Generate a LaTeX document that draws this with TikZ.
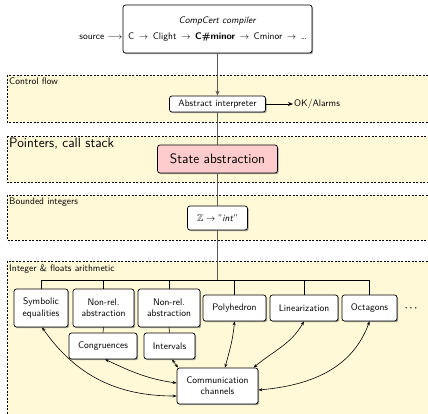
\documentclass[tikz,border=0pt]{standalone}
\usepackage{amsmath,amssymb}
\usetikzlibrary{arrows.meta,shadows}
\definecolor{bandfill}{RGB}{255,249,216}
\definecolor{statefill}{RGB}{255,204,206}
\newcommand\basefont{\sffamily\fontsize{9.5}{11.3}\selectfont}
\newcommand\bigfont{\sffamily\fontsize{13.6}{16}\selectfont}
\begin{document}
\begin{tikzpicture}[x=1pt,y=1pt,
  band/.style={draw=black, fill=bandfill, line width=0.7pt, dash pattern=on 2pt off 1.5pt},
  bandlabel/.style={anchor=north west, inner sep=1pt, font=\basefont},
  box/.style={draw, fill=white, rounded corners=2.5pt, line width=0.7pt, align=center,
    font=\basefont, inner sep=1pt,
    drop shadow={shadow xshift=1.2pt, shadow yshift=-1.2pt, fill=black!60, opacity=0.6}},
  spine/.style={draw=black!65, line width=1pt},
  bus/.style={draw, line width=0.6pt},
  link/.style={draw, line width=0.6pt, {Stealth[length=4pt,width=3pt]}-{Stealth[length=4pt,width=3pt]}},
]
\useasboundingbox (0,0) rectangle (428,-413);

% layer bands
\path[band] (7,-75) rectangle (440,-122);
\path[band] (7,-136) rectangle (440,-182);
\path[band] (7,-195) rectangle (440,-240);
\path[band] (7,-261) rectangle (440,-425);
\node[bandlabel] (lcf) at (8,-77) {Control flow};
\node[bandlabel, font=\bigfont] (lpc) at (8,-136.5) {Pointers, call stack};
\node[bandlabel] (lbi) at (8,-197) {Bounded integers};
\node[bandlabel] (lia) at (8,-263) {Integer \& floats arithmetic};

% front end
\node[box, minimum width=189pt, minimum height=48pt] (cc) at (217.5,-29)
  {\textit{CompCert compiler}\\[4pt]
   C $\,\to\,$ Clight $\,\to\,$ \textbf{C\#minor} $\,\to\,$ Cminor $\,\to\,$ \ldots};
\node[anchor=east, inner sep=0pt, font=\basefont] (src) at ([yshift=-8pt]cc.west)
  {source $\longrightarrow$};

% spine
\node[box, minimum width=96pt, minimum height=16pt] (ai) at (217.5,-104) {Abstract interpreter};
\node[anchor=west, inner sep=1pt, font=\basefont] (ok) at (293,-104) {OK/Alarms};
\node[box, fill=statefill, font=\bigfont, minimum width=120pt, minimum height=28pt] (sa) at (217.5,-159) {State abstraction};
\node[box, minimum width=60pt, minimum height=24pt] (zi) at (217.5,-218) {$\mathbb{Z}\to{}$''\textit{int}''};
\coordinate (hub) at (217.5,-280);

% domains
\node[box, minimum width=54pt, minimum height=38pt] (sym) at (41,-308) {Symbolic\\equalities};
\node[box, minimum width=61pt, minimum height=38pt] (nr1) at (103.5,-308) {Non-rel.\\abstraction};
\node[box, minimum width=62pt, minimum height=38pt] (nr2) at (169,-308) {Non-rel.\\abstraction};
\node[box, minimum width=63pt, minimum height=26pt] (poly) at (234.5,-308) {Polyhedron};
\node[box, minimum width=68pt, minimum height=26pt] (lin) at (304,-308) {Linearization};
\node[box, minimum width=55pt, minimum height=26pt] (oct) at (369.5,-308) {Octagons};
\node[font=\basefont, inner sep=0pt] (more) at (412,-308) {$\boldsymbol{\cdots}$};
\node[box, minimum width=68pt, minimum height=26pt] (cong) at (103,-346) {Congruences};
\node[box, minimum width=51pt, minimum height=26pt] (intv) at (169.5,-346) {Intervals};
\node[box, minimum width=81pt, minimum height=36pt] (comm) at (217.5,-386) {Communication\\channels};

% spine connectors
\draw[spine, -{Stealth[length=5pt,width=4pt]}] (cc.south) -- (ai.north);
\draw[spine] (ai.south) -- (sa.north);
\draw[spine] (sa.south) -- (zi.north);
\draw[spine] (zi.south) -- (hub);
\draw[line width=0.8pt, -{Stealth[length=5pt,width=4pt]}] (ai.east) -- (ok.west);

% bus to the domains
\draw[bus] (sym.north |- hub) -- (oct.north |- hub);
\foreach \d in {sym,nr1,nr2,poly,lin,oct}
  \draw[bus] (\d.north |- hub) -- (\d.north);
\draw[bus] (nr1.south) -- (cong.north);
\draw[bus] (nr2.south) -- (intv.north);

% communication links
\draw[link] ([xshift=1pt]sym.south) to[out=-55, in=180] ([yshift=-10pt]comm.west);
\draw[link] ([xshift=2pt]cong.south) to[out=-25, in=172] ([yshift=3pt]comm.west);
\draw[link] ([xshift=2.5pt]intv.south) -- ([xshift=-39.5pt]comm.north);
\draw[link] (poly.south) to[out=-95, in=75] ([xshift=7.5pt]comm.north);
\draw[link] (lin.south) to[out=-120, in=40] ([xshift=36pt]comm.north);
\draw[link] (oct.south) to[out=-110, in=5] ([yshift=-4pt]comm.east);
\end{tikzpicture}
\end{document}
